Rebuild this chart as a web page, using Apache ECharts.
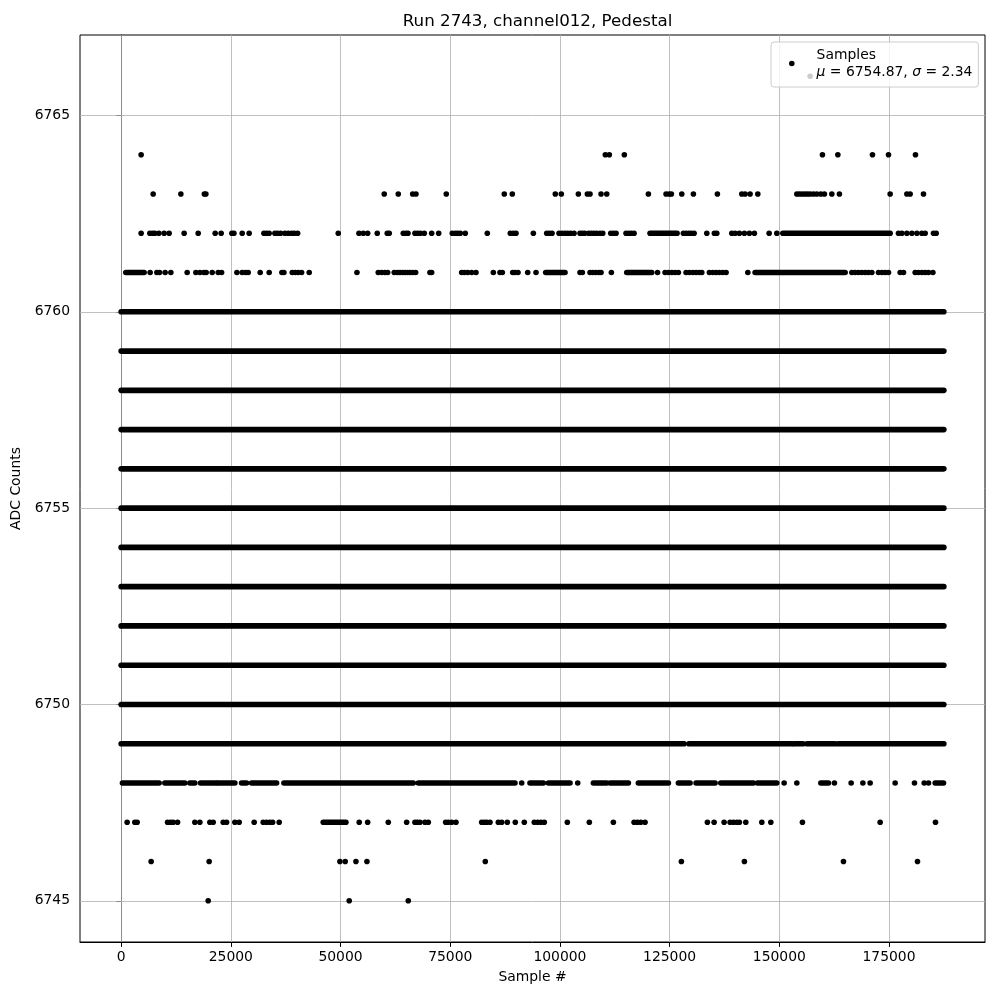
<!DOCTYPE html>
<html>
<head>
<meta charset="utf-8">
<script src="https://cdn.jsdelivr.net/npm/echarts@6/dist/echarts.min.js"></script>
<style>html,body{margin:0;padding:0;background:#fff}#c{width:1000px;height:1000px}</style>
</head>
<body>
<div id="c"></div>
<script>
// ---- data (sample index, ADC counts) ----
const xTicks = [0, 25000, 50000, 75000, 100000, 125000, 150000, 175000];
const yTicks = [6745, 6750, 6755, 6760, 6765];
const firstSample = 0;
const lastSample = 187500;
// levels where samples are present at essentially every index
const denseLevels = [6750, 6751, 6752, 6753, 6754, 6755, 6756, 6757, 6758, 6759, 6760];
// runs of consecutive samples at sparser levels: [start, end]
const runs6749 = [[0, 128300], [129400, 152900], [153400, 155400], [156300, 162700], [163400, 187500]];
const runs6748 = [[300, 8660], [9960, 14520], [15660, 16800], [18100, 21750], [22120, 25920], [27450, 28590],
  [29730, 35430], [37100, 66580], [67720, 89760], [93180, 96220], [97360, 102300], [107620, 110670],
  [111420, 115600], [117880, 124720], [127000, 129660], [131030, 135360], [136660, 144100], [145010, 149430],
  [159460, 161200], [185520, 187420]];
const runs6747 = [[46060, 51230]];
const runs6761 = [[1070, 5240], [96760, 101160], [115230, 120930], [144480, 165000]];
const runs6762 = [[120540, 126700], [150800, 175260]];
// isolated samples
const pts6766 = [157020];
const pts6764 = [4560, 110350, 111260, 114680, 159830, 163340, 171230, 174880, 181030];
const pts6763 = [7300, 13610, 18970, 19310, 59960, 63160, 66440, 67190, 74100, 87320, 89150, 98950, 100320,
  104200, 106250, 106860, 109370, 110670, 120160, 124190, 124880, 125400, 127770, 130420, 135890, 141450,
  142200, 143340, 145100, 153990, 154580, 155200, 155820, 156410, 157020, 157780, 158550, 159460, 160280,
  161970, 163700, 175260, 179070, 179820, 182860];
const pts6762 = [4560, 6540, 7160, 7680, 8600, 9800, 10940, 14360, 17560, 21430, 22800, 25240, 25700, 27590,
  29180, 32540, 33150, 33740, 35040, 35660, 36340, 37320, 38080, 38850, 39440, 40220, 49480, 54200, 55180,
  56180, 58370, 60650, 61100, 64300, 64910, 65370, 66960, 67580, 68170, 69080, 70770, 72370, 75470, 76150,
  76700, 77290, 78430, 83450, 88690, 89380, 89990, 93940, 96990, 97580, 98200, 99800, 100480, 101160, 101780,
  102460, 103220, 104580, 105110, 105660, 106570, 107160, 107780, 108390, 109140, 109760, 111580, 112180,
  112790, 115070, 115690, 116280, 116900, 128140, 128750, 129370, 129960, 130580, 133470, 135200, 135750,
  139170, 139920, 140900, 142040, 143180, 144320, 147680, 149430, 177160, 177930, 179070, 180210, 181350,
  182490, 183240, 185140, 185750];
const pts6761 = [6610, 8140, 8760, 10030, 11330, 15050, 17030, 17940, 18860, 19380, 20750, 22120, 22890,
  26380, 27590, 28360, 28960, 31690, 33740, 36640, 37100, 38990, 39670, 40360, 41130, 42860, 53740, 58600,
  59370, 60120, 60740, 62240, 62930, 63540, 64160, 64680, 65300, 65820, 66440, 67120, 70380, 70770, 77610,
  78200, 78980, 79890, 80870, 84820, 86340, 86870, 89240, 89760, 90450, 92660, 94550, 104580, 105110, 106860,
  107480, 108160, 108850, 109370, 111720, 122250, 123960, 124720, 125490, 126240, 127000, 128750, 129500,
  130280, 131030, 131780, 132330, 134060, 134840, 135590, 136340, 137120, 137870, 142820, 166530, 167280,
  168040, 168810, 169560, 170320, 171090, 172600, 173370, 174120, 174880, 177540, 178300, 180960, 181720,
  182490, 183240, 184000, 185000];
const pts6748 = [91290, 104060, 151100, 153990, 162560, 166370, 169040, 170700, 176400, 180800, 183020, 184000];
const pts6747 = [1370, 3120, 3650, 10580, 11260, 11860, 12860, 16800, 17940, 20220, 20980, 23260, 24030,
  25920, 26900, 30320, 32380, 33150, 33900, 34520, 36020, 54260, 56180, 60880, 65070, 66960, 67490, 68100,
  69240, 70000, 73960, 74560, 75330, 76310, 82170, 82760, 83310, 84060, 85960, 86730, 88010, 89830, 91880,
  94160, 94940, 95690, 96440, 101690, 106700, 112180, 116900, 117650, 118420, 119400, 133610, 135140, 137420,
  138780, 139540, 140310, 140900, 142360, 146010, 148060, 155270, 172980, 185590];
const pts6746 = [6840, 20060, 49860, 51070, 53510, 56020, 82990, 127680, 142040, 164620, 181490];
const pts6745 = [19840, 51980, 65440];

// ---- build library data ----
const scatterData = [];
[[6766, pts6766], [6764, pts6764], [6763, pts6763], [6762, pts6762], [6761, pts6761],
 [6748, pts6748], [6747, pts6747], [6746, pts6746], [6745, pts6745]].forEach(([y, xs]) => {
  xs.forEach(x => scatterData.push([x, y]));
});
const runData = [];
denseLevels.forEach(y => runData.push([firstSample, lastSample, y]));
[[6749, runs6749], [6748, runs6748], [6747, runs6747], [6761, runs6761], [6762, runs6762]].forEach(([y, rs]) => {
  rs.forEach(r => runData.push([r[0], r[1], y]));
});

const span = lastSample - firstSample;
const xMin = firstSample - 0.05 * span, xMax = lastSample + 0.05 * span;
const yLo = 6745, yHi = 6766;
const yMin = yLo - 0.05 * (yHi - yLo), yMax = yHi + 0.05 * (yHi - yLo);

const FONT = 'DejaVu Sans';
const DOT = 5.6;

const chart = echarts.init(document.getElementById('c'), null, {renderer: 'canvas'});
chart.setOption({
  animation: false,
  backgroundColor: '#fff',
  textStyle: {fontFamily: FONT},
  title: {
    text: 'Run 2743, channel012, Pedestal',
    left: 532.5, top: 8, textAlign: 'center',
    textStyle: {fontFamily: FONT, fontSize: 16.7, fontWeight: 'normal', color: '#000'}
  },
  grid: {left: 80, right: 15, top: 35, bottom: 58, show: true, borderColor: '#000', borderWidth: 1, backgroundColor: 'transparent'},
  legend: {
    left: 771, top: 42, z: 10,
    padding: [6, 6, 8, 18],
    backgroundColor: 'rgba(255,255,255,0.8)',
    borderColor: '#cccccc', borderWidth: 1, borderRadius: 3,
    selectedMode: false,
    itemWidth: DOT, itemHeight: DOT,
    icon: 'circle',
    itemStyle: {color: '#000', opacity: 1},
    data: ['Samples'],
    formatter: () => '{s|Samples}\n{m|μ}{a| = 6754.87, }{g|σ}{a| = 2.34}',
    textStyle: {
      fontFamily: FONT, fontSize: 13.9, color: '#000',
      rich: {
        s: {fontFamily: FONT, fontSize: 13.9, color: '#000', lineHeight: 17, padding: [0, 0, 0, 17]},
        m: {fontFamily: FONT, fontSize: 13.9, color: '#000', lineHeight: 17, fontStyle: 'italic', padding: [0, 0, 0, 17]},
        a: {fontFamily: FONT, fontSize: 13.9, color: '#000', lineHeight: 17},
        g: {fontFamily: FONT, fontSize: 13.9, color: '#000', lineHeight: 17, fontStyle: 'italic'}
      }
    }
  },
  xAxis: {
    type: 'value', min: xMin, max: xMax,
    name: 'Sample #', nameLocation: 'middle', nameGap: 28,
    nameTextStyle: {fontFamily: FONT, fontSize: 13.9, color: '#000'},
    axisLine: {show: true, lineStyle: {color: '#000', width: 1}},
    axisTick: {show: true, customValues: xTicks, length: 4.9, lineStyle: {color: '#000', width: 1}},
    axisLabel: {show: true, customValues: xTicks, margin: 8, fontFamily: FONT, fontSize: 13.9, color: '#000', formatter: v => String(v)},
    splitLine: {show: false}
  },
  yAxis: {
    type: 'value', min: yMin, max: yMax,
    name: 'ADC Counts', nameLocation: 'middle', nameGap: 52,
    nameTextStyle: {fontFamily: FONT, fontSize: 13.9, color: '#000'},
    axisLine: {show: true, lineStyle: {color: '#000', width: 1}},
    axisTick: {show: true, customValues: yTicks, length: 4.9, lineStyle: {color: '#000', width: 1}},
    axisLabel: {show: true, customValues: yTicks, margin: 10, fontFamily: FONT, fontSize: 13.9, color: '#000', formatter: v => String(v)},
    splitLine: {show: false}
  },
  series: [
    {
      name: 'gridlines', type: 'scatter', data: [], z: 1, silent: true,
      markLine: {
        silent: true, symbol: ['none', 'none'], animation: false, z: 1,
        label: {show: false},
        lineStyle: {color: '#b0b0b0', width: 0.8, type: 'solid'},
        emphasis: {disabled: true},
        data: xTicks.map(v => ({xAxis: v})).concat(yTicks.map(v => ({yAxis: v})))
      }
    },
    {
      name: 'runs', type: 'custom', z: 3, silent: true,
      data: runData,
      encode: {x: [0, 1], y: 2},
      renderItem: (params, api) => {
        const a = api.coord([api.value(0), api.value(2)]);
        const b = api.coord([api.value(1), api.value(2)]);
        return {type: 'line', shape: {x1: a[0], y1: a[1], x2: b[0], y2: b[1]},
          style: {stroke: '#000', lineWidth: DOT, lineCap: 'round'}};
      }
    },
    {
      name: 'Samples', type: 'scatter', z: 3, silent: true,
      symbol: 'circle', symbolSize: DOT,
      itemStyle: {color: '#000', opacity: 1},
      data: scatterData
    }
  ]
});
</script>
</body>
</html>
